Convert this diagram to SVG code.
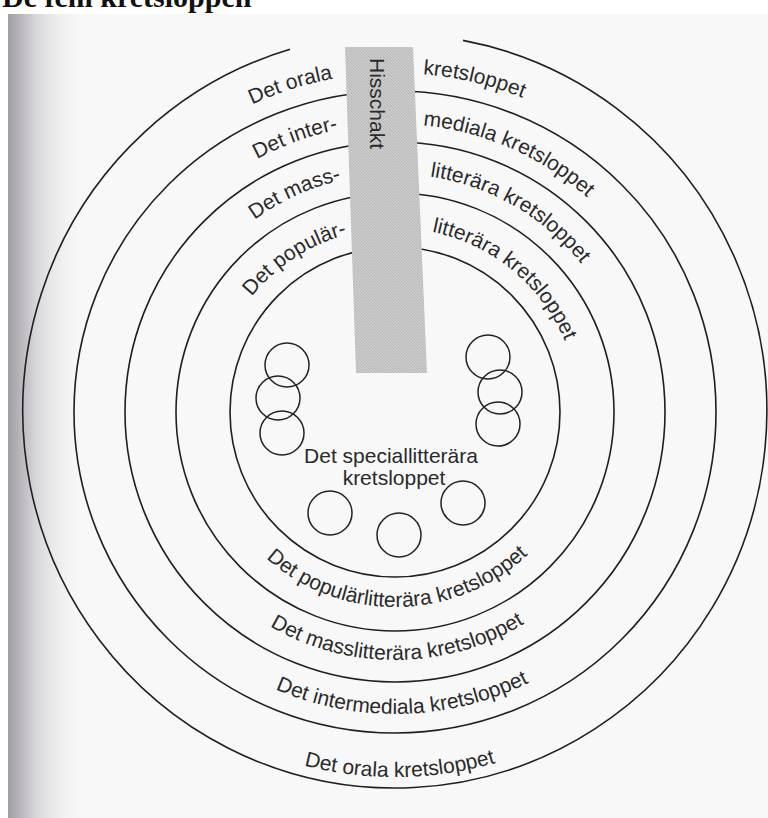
<svg xmlns="http://www.w3.org/2000/svg" width="768" height="818" viewBox="0 0 768 818">
  <defs>
    <style>
      .ring { fill: none; stroke: #1f1f1f; stroke-width: 1.6; }
      .small { fill: none; stroke: #222; stroke-width: 1.5; }
      .lbl { font-family: "Liberation Sans", Arial, Helvetica, sans-serif; font-size: 21px; fill: #2a2a2a; }
      .title { font-family: "Liberation Serif", "Times New Roman", serif; font-size: 30px; font-weight: bold; fill: #111; }
    </style>
    <linearGradient id="pageShade" x1="0" y1="0" x2="1" y2="0">
      <stop offset="0" stop-color="#a09ca4"/>
      <stop offset="0.35" stop-color="#d8d6da"/>
      <stop offset="1" stop-color="#f7f7f7" stop-opacity="0"/>
    </linearGradient>
    <pattern id="grain" width="3" height="3" patternUnits="userSpaceOnUse">
      <rect width="3" height="3" fill="#cbcbcb"/>
      <rect x="0" y="0" width="1" height="1" fill="#b6b6b6"/>
      <rect x="1" y="1" width="1" height="1" fill="#bababa"/>
      <rect x="2" y="2" width="1" height="1" fill="#b8b8b8"/>
    </pattern>
    <!-- text baselines: upper-left arcs -->
    <path id="tl1" d="M 56 412 A 339 339 0 0 1 333 78.7"/>
    <path id="tl2" d="M 107 412 A 288 288 0 0 1 338 129.7"/>
    <path id="tl3" d="M 157 412 A 238 238 0 0 1 341 180.2"/>
    <path id="tl4" d="M 211 412 A 184 184 0 0 1 347 234.4"/>
    <!-- upper-right arcs -->
    <path id="tr1" d="M 423 74.2 A 339 339 0 0 1 734 412"/>
    <path id="tr2" d="M 423 125.4 A 288 288 0 0 1 683 412"/>
    <path id="tr3" d="M 430 176.6 A 238 238 0 0 1 633 412"/>
    <path id="tr4" d="M 432 231.8 A 184 184 0 0 1 579 412"/>
    <!-- bottom arcs -->
    <path id="b1" d="M 30 412 A 365 365 0 0 0 760 412"/>
    <path id="b2" d="M 93 412 A 302 302 0 0 0 697 412"/>
    <path id="b3" d="M 147 412 A 248 248 0 0 0 643 412"/>
    <path id="b4" d="M 200 412 A 195 195 0 0 0 590 412"/>
  </defs>

  <!-- page -->
  <rect x="0" y="0" width="768" height="818" fill="#f8f8f8"/>
  <rect x="8" y="14" width="80" height="804" fill="url(#pageShade)"/>
  <rect x="0" y="0" width="8" height="818" fill="#ffffff"/>
  <rect x="0" y="0" width="768" height="14" fill="#ffffff"/>
  <text class="title" x="2" y="7">De fem kretsloppen</text>

  <g id="ring-orala">
    <path class="ring" d="M 463 40.4 A 372 377 0 1 1 290 49.3"/>
    <text class="lbl"><textPath href="#tl1" startOffset="100%" text-anchor="end">Det orala</textPath></text>
    <text class="lbl"><textPath href="#tr1">kretsloppet</textPath></text>
    <text class="lbl"><textPath href="#b1" startOffset="578" text-anchor="middle">Det orala kretsloppet</textPath></text>
  </g>

  <g id="ring-intermediala">
    <circle class="ring" cx="395" cy="412" r="321"/>
    <text class="lbl"><textPath href="#tl2" startOffset="100%" text-anchor="end">Det inter-</textPath></text>
    <text class="lbl"><textPath href="#tr2">mediala kretsloppet</textPath></text>
    <text class="lbl"><textPath href="#b2" startOffset="482" text-anchor="middle">Det intermediala kretsloppet</textPath></text>
  </g>

  <g id="ring-masslitterara">
    <circle class="ring" cx="395" cy="412" r="270"/>
    <text class="lbl"><textPath href="#tl3" startOffset="100%" text-anchor="end">Det mass-</textPath></text>
    <text class="lbl"><textPath href="#tr3">litterära kretsloppet</textPath></text>
    <text class="lbl"><textPath href="#b3" startOffset="392" text-anchor="middle">Det masslitterära kretsloppet</textPath></text>
  </g>

  <g id="ring-popularlitterara">
    <circle class="ring" cx="395" cy="412" r="219"/>
    <text class="lbl"><textPath href="#tl4" startOffset="100%" text-anchor="end">Det populär-</textPath></text>
    <text class="lbl"><textPath href="#tr4">litterära kretsloppet</textPath></text>
    <text class="lbl"><textPath href="#b4" startOffset="309" text-anchor="middle">Det populärlitterära kretsloppet</textPath></text>
  </g>

  <g id="ring-speciallitterara">
    <circle class="ring" cx="395" cy="412" r="165"/>
    <text class="lbl" x="391" y="463" text-anchor="middle">Det speciallitterära</text>
    <text class="lbl" x="394" y="485" text-anchor="middle">kretsloppet</text>
  </g>

  <g id="hisschakt">
    <polygon points="345,47 413,47 427,373 356,373" fill="url(#grain)"/>
    <text class="lbl" transform="translate(370,58) rotate(90)">Hisschakt</text>
  </g>

  <g id="small-circles">
    <circle class="small" cx="287" cy="365" r="22"/>
    <circle class="small" cx="278" cy="398" r="22"/>
    <circle class="small" cx="282" cy="433" r="22"/>
    <circle class="small" cx="488" cy="357" r="22"/>
    <circle class="small" cx="500" cy="392" r="22"/>
    <circle class="small" cx="498" cy="424" r="22"/>
    <circle class="small" cx="330" cy="513" r="22"/>
    <circle class="small" cx="399" cy="535" r="22"/>
    <circle class="small" cx="463" cy="503" r="22"/>
  </g>

  <g id="connectors"/>
</svg>
